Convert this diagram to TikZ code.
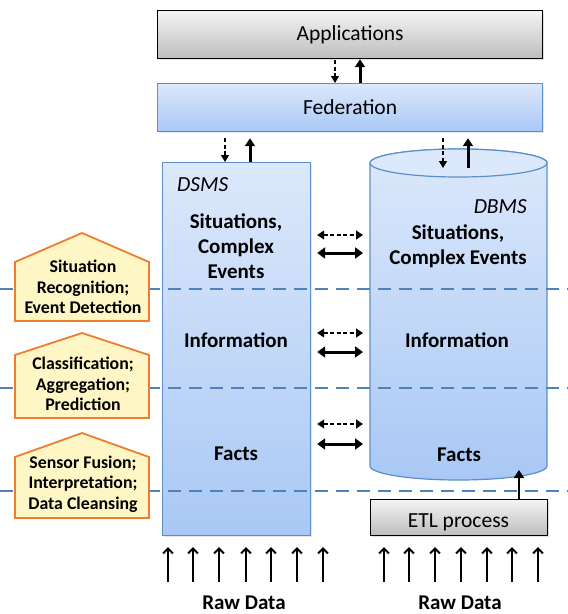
\documentclass[tikz,border=0pt]{standalone}
\usepackage{fontspec}
\setmainfont{Carlito}
\usetikzlibrary{arrows.meta,shadows}
\definecolor{bdr}{HTML}{5B8FCB}
\definecolor{btop}{HTML}{DCE8FB}
\definecolor{bbot}{HTML}{A9C8F5}
\definecolor{gtop}{HTML}{F4F4F4}
\definecolor{gbot}{HTML}{BDBDBD}
\definecolor{sepc}{HTML}{4F81BD}
\definecolor{ptfill}{HTML}{FFF6C6}
\definecolor{ptdraw}{HTML}{ED7D31}
\begin{document}
\begin{tikzpicture}[x=1pt,y=-1pt,
  graybox/.style={draw=black, line width=1.2pt, top color=gtop, bottom color=gbot, anchor=north west, inner sep=0pt,
     drop shadow={opacity=0.25, shadow xshift=1.5pt, shadow yshift=-1.5pt}},
  bluebox/.style={draw=bdr, line width=1.2pt, top color=btop, bottom color=bbot, anchor=north west, inner sep=0pt,
     drop shadow={opacity=0.2, shadow xshift=1.5pt, shadow yshift=-1.5pt}},
  bigtxt/.style={font=\fontsize{21.5}{24}\selectfont},
  lbl/.style={font=\fontsize{21}{25}\selectfont\bfseries, align=center, inner sep=0pt},
  itl/.style={font=\fontsize{21.5}{24}\selectfont\itshape, inner sep=0pt},
  dasharr/.style={-{Triangle[length=7pt,width=8pt]}, line width=1.2pt, dash pattern=on 4pt off 2.5pt},
  solarr/.style={-{Triangle[length=8pt,width=10pt]}, line width=3pt},
  dashdbl/.style={{Triangle[length=7pt,width=9pt]}-{Triangle[length=7pt,width=9pt]}, line width=1.3pt, dash pattern=on 4pt off 2.5pt, shorten <=6pt, shorten >=7pt},
  soldbl/.style={{Triangle[length=8pt,width=11pt]}-{Triangle[length=8pt,width=11pt]}, line width=3pt, shorten <=6pt, shorten >=7pt},
  rawarr/.style={-{Straight Barb[length=5pt,width=10pt]}, line width=2pt},
  sepline/.style={draw=sepc, line width=2.2pt, dash pattern=on 13pt off 8pt},
  penta/.style={draw=ptdraw, fill=ptfill, line width=1.8pt, line join=miter},
  ptxt/.style={font=\fontsize{17.8}{20.5}\selectfont\bfseries, align=center, inner sep=0pt}
]
\useasboundingbox (0,0) rectangle (568,614);

% Applications and Federation
\node[graybox, minimum width=385pt, minimum height=48pt, bigtxt] (app) at (157,10) {Applications};
\node[bluebox, minimum width=385pt, minimum height=48pt, bigtxt] (fed) at (157,83) {Federation};

% DSMS box
\node[bluebox, minimum width=148pt, minimum height=373pt] (dsms) at (162,162) {};

% DBMS cylinder
\shade[top color=btop, bottom color=bbot, draw=bdr, line width=1.2pt]
  (370,163) -- (370,466) arc[start angle=180, end angle=360, x radius=88.5pt, y radius=14pt]
  -- (547,163) arc[start angle=0, end angle=180, x radius=88.5pt, y radius=14pt] -- cycle;
\draw[draw=bdr, line width=1.2pt, fill=btop] (458.5,163) ellipse[x radius=88.5pt, y radius=14pt];
\node[anchor=north west, minimum width=177pt, minimum height=332pt, inner sep=0pt] (dbms) at (370,149) {};

% ETL
\node[graybox, minimum width=177pt, minimum height=36pt] (etl) at (370,499) {};
\node[font=\fontsize{21.5}{24}\selectfont, anchor=base, inner sep=0pt] (etltxt) at (458.5,527) {ETL process};

% column helpers
\coordinate (xa) at (335,0);
\coordinate (xb) at (360,0);
\coordinate (xc) at (225,0);
\coordinate (xd) at (250,0);
\coordinate (xe) at (443,0);
\coordinate (xf) at (468,0);
\coordinate (ye) at (0,168);
\coordinate (xg) at (519,0);
\coordinate (yg) at (0,470);

% vertical arrows
\draw[dasharr] ([yshift=-1pt]app.south -| xa) -- (fed.north -| xa);
\draw[solarr] (fed.north -| xb) -- (app.south -| xb);
\draw[dasharr] ([yshift=-6pt]fed.south -| xc) -- (dsms.north -| xc);
\draw[solarr] (dsms.north -| xd) -- ([yshift=-6pt]fed.south -| xd);
\draw[dasharr] ([yshift=-6pt]fed.south -| xe) -- (ye -| xe);
\draw[solarr] (ye -| xf) -- ([yshift=-6pt]fed.south -| xf);
\draw[solarr, line width=2pt] (etl.north -| xg) -- (yg -| xg);

% horizontal double arrows
\foreach \yd/\ys [count=\i] in {235/253, 333/352, 424/444} {
  \coordinate (hd\i) at (0,\yd);
  \coordinate (hs\i) at (0,\ys);
  \draw[dashdbl] (dsms.east |- hd\i) -- (dbms.west |- hd\i);
  \draw[soldbl] (dsms.east |- hs\i) -- (dbms.west |- hs\i);
}

% labels
\node[itl, anchor=base west] (dsmsl) at (177,191) {DSMS};
\node[itl, anchor=base east] (dbmsl) at (527,213) {DBMS};
\node[lbl, anchor=center] (sit1) at (236,246) {Situations,\\Complex\\Events};
\node[lbl, anchor=center] (sit2) at (458,246) {Situations,\\Complex Events};
\node[lbl, anchor=base] (inf1) at (236,347) {Information};
\node[lbl, anchor=base] (inf2) at (457,347) {Information};
\node[lbl, anchor=base] (fac1) at (236,460) {Facts};
\node[lbl, anchor=base] (fac2) at (459,461) {Facts};

% separators
\draw[sepline] (0,289) -- (568,289);
\draw[sepline] (0,388) -- (568,388);
\draw[sepline] (0,491) -- (568,491);

% pentagons
\draw[penta] (15,262) -- (82,233) -- (149,262) -- (149,321) -- (15,321) -- cycle;
\draw[penta] (15,355) -- (82,333) -- (149,355) -- (149,418) -- (15,418) -- cycle;
\draw[penta] (15,457) -- (82,433) -- (149,457) -- (149,518) -- (15,518) -- cycle;
\node[ptxt, anchor=center] (p1) at (83,287) {Situation\\Recognition;\\Event Detection};
\node[ptxt, anchor=center] (p2) at (83,384) {Classification;\\Aggregation;\\Prediction};
\node[ptxt, anchor=center] (p3) at (83,484) {Sensor Fusion;\\Interpretation;\\Data Cleansing};

% raw data
\foreach \x in {168,193,219,246,271,297,323,384,409,435,461,487,512,538} {
  \draw[rawarr] (\x,582) -- (\x,547);
}
\node[font=\fontsize{21}{24}\selectfont\bfseries, anchor=base, inner sep=0pt] (rawl) at (244,609) {Raw Data};
\node[font=\fontsize{21}{24}\selectfont\bfseries, anchor=base, inner sep=0pt] (rawr) at (460,609) {Raw Data};
\end{tikzpicture}
\end{document}
